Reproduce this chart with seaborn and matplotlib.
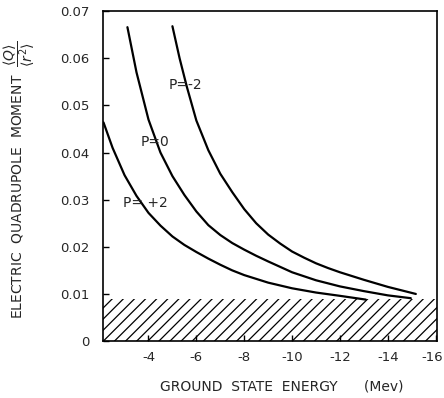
import matplotlib
matplotlib.use("Agg")
import matplotlib.pyplot as plt
import matplotlib.transforms as mtransforms
import seaborn as sns
import pandas as pd

# Data (energy in MeV, Q/<r^2>)
p_plus2_x = [-2.12, -2.5, -3.0, -3.5, -4.0, -4.5, -5.0, -5.5, -6.0, -6.5, -7.0, -7.5,
             -8.0, -9.0, -10.0, -11.0, -12.0, -13.08]
p_plus2_y = [0.0464, 0.0410, 0.0352, 0.0308, 0.0272, 0.0245, 0.0222, 0.0204, 0.0189,
             0.0175, 0.0162, 0.0150, 0.0140, 0.0124, 0.0112, 0.0103, 0.0096, 0.0088]

p_zero_x = [-3.12, -3.5, -4.0, -4.5, -5.0, -5.5, -6.0, -6.5, -7.0, -7.5, -8.0, -8.5,
            -9.0, -10.0, -11.0, -12.0, -13.0, -14.0, -14.96]
p_zero_y = [0.0666, 0.0570, 0.0470, 0.0400, 0.0350, 0.0310, 0.0275, 0.0246, 0.0225,
            0.0208, 0.0194, 0.0181, 0.0169, 0.0146, 0.0129, 0.0116, 0.0106, 0.0097, 0.0091]

p_minus2_x = [-5.0, -5.3, -5.6, -6.0, -6.5, -7.0, -7.5, -8.0, -8.5, -9.0, -9.5, -10.0,
              -10.5, -11.0, -11.5, -12.0, -13.0, -14.0, -15.17]
p_minus2_y = [0.0668, 0.0600, 0.0540, 0.0468, 0.0405, 0.0355, 0.0316, 0.0280, 0.0250,
              0.0226, 0.0207, 0.0190, 0.0177, 0.0165, 0.0155, 0.0146, 0.0130, 0.0115, 0.0100]

series_names = ["P= +2", "P=0", "P=-2"]
label_texts = ["P= +2", "P=0", "P=-2"]
label_x = [-2.95, -3.67, -4.84]
label_y = [0.0293, 0.0423, 0.0543]

hatched_top = 0.009

x_ticks = [-4, -6, -8, -10, -12, -14, -16]
x_tick_labels = ["-4", "-6", "-8", "-10", "-12", "-14", "-16"]
y_ticks = [0, 0.01, 0.02, 0.03, 0.04, 0.05, 0.06, 0.07]
y_tick_labels = ["0", "0.01", "0.02", "0.03", "0.04", "0.05", "0.06", "0.07"]

frames = []
for name, xs, ys in zip(series_names,
                        [p_plus2_x, p_zero_x, p_minus2_x],
                        [p_plus2_y, p_zero_y, p_minus2_y]):
    frames.append(pd.DataFrame({"energy": xs, "q": ys, "P": name}))
df = pd.concat(frames, ignore_index=True)

sns.set_theme(style="ticks")
plt.rcParams["font.family"] = ["DejaVu Sans"]
plt.rcParams["hatch.linewidth"] = 0.9

fig = plt.figure(figsize=(4.44, 3.98), dpi=100)
ax = fig.add_axes([0.232, 0.143, 0.752, 0.829])

sns.lineplot(data=df, x="energy", y="q", hue="P", units="P", estimator=None,
             sort=False, palette=["black"] * 3, linewidth=1.6, legend=False, ax=ax)

ax.axhspan(0, hatched_top, facecolor="none", edgecolor="black", hatch="///",
           linewidth=0)

ax.set_xlim(-2.1, -16.05)
ax.set_ylim(0, 0.07)

ax.set_xticks(x_ticks)
ax.set_xticklabels(x_tick_labels, fontsize=9.5)
ax.set_yticks(y_ticks)
ax.set_yticklabels(y_tick_labels, fontsize=9.5)
ax.tick_params(direction="in", length=4, width=1, color="black")
ax.tick_params(axis="x", pad=7)
ax.tick_params(axis="y", pad=10)

# keep the last x tick label inside the figure
last = ax.get_xticklabels()[-1]
last.set_transform(last.get_transform() +
                   mtransforms.ScaledTranslation(-4 / 100, 0, fig.dpi_scale_trans))

for s in ax.spines.values():
    s.set_visible(True)
    s.set_linewidth(1.2)
    s.set_color("black")

for t, lx, ly in zip(label_texts, label_x, label_y):
    ax.text(lx, ly, t, ha="left", va="center", fontsize=10)

ax.set_xlabel("GROUND  STATE  ENERGY      (Mev)", fontsize=10)
ax.xaxis.set_label_coords(0.535, -0.115)
ax.set_ylabel(r"ELECTRIC  QUADRUPOLE  MOMENT  $\dfrac{\langle Q\rangle}{\langle r^2\rangle}$",
              fontsize=10)
ax.yaxis.set_label_coords(-0.198, 0.49)

fig.savefig("out.png", dpi=100)
